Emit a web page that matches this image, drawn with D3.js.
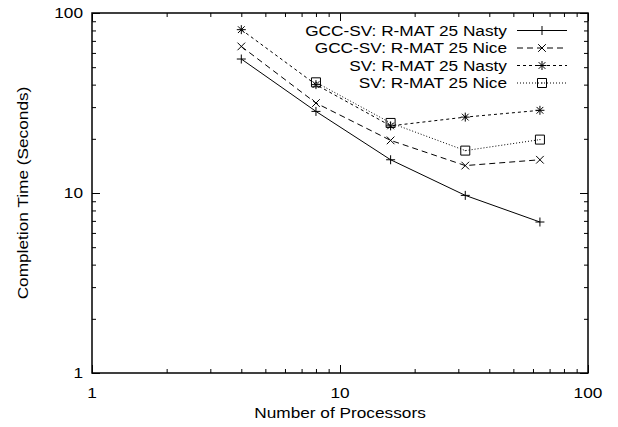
<!DOCTYPE html>
<html>
<head>
<meta charset="utf-8">
<script src="https://cdn.jsdelivr.net/npm/d3@7"></script>
<style>
  body { margin: 0; background: #fff; }
  text { font-family: "Liberation Sans", Arial, sans-serif; fill: #000; }
</style>
</head>
<body>
<svg id="chart"></svg>
<script>
// data
var procs = [4, 8, 16, 32, 64]
var gccNasty = [55.5, 28.4, 15.3, 9.7, 6.9]
var gccNice = [65.2, 31.6, 19.6, 14.2, 15.3]
var svNasty = [80.8, 40.0, 23.6, 26.4, 28.8]
var svNice = [null, 41.2, 24.5, 17.2, 19.8]
var seriesNames = ["GCC-SV: R-MAT 25 Nasty", "GCC-SV: R-MAT 25 Nice", "SV: R-MAT 25 Nasty", "SV: R-MAT 25 Nice"]
var xTicks = [1, 10, 100]
var yTicks = [1, 10, 100]

var screen = {width: 618, height: 427}
var margins = {top: 13, bottom: 54, left: 92, right: 30}
var graph = {
    width: screen.width - margins.left - margins.right,
    height: screen.height - margins.top - margins.bottom
}
var fontSize = 15
var stretch = 1.15   // the original's lettering is a bit wider than Arial

var svg = d3.select("#chart")
    .attr("width", screen.width)
    .attr("height", screen.height)

var xScale = d3.scaleLog().domain([1, 100]).range([0, graph.width])
var yScale = d3.scaleLog().domain([1, 100]).range([graph.height, 0])

var addText = function(parent, str, x, y, anchor, rot) {
    return parent.append("text")
        .text(str)
        .attr("text-anchor", anchor)
        .attr("font-size", fontSize)
        .attr("transform", "translate(" + x + "," + y + ")" + (rot ? " rotate(" + rot + ")" : "") + " scale(" + stretch + ",1)")
}

var minorX = []
var minorY = []
;[1, 10].forEach(function(d) {
    for (var k = 2; k <= 9; k++) { minorX.push(d * k); minorY.push(d * k) }
})

var g = svg.append("g")
    .attr("transform", "translate(" + margins.left + "," + margins.top + ")")

// ticks on all four sides, pointing inward (gnuplot style)
var tickSets = [
    {axis: d3.axisBottom, t: "translate(0," + graph.height + ")", scale: xScale, vals: xTicks, minor: minorX},
    {axis: d3.axisTop, t: "translate(0,0)", scale: xScale, vals: xTicks, minor: minorX},
    {axis: d3.axisLeft, t: "translate(0,0)", scale: yScale, vals: yTicks, minor: minorY},
    {axis: d3.axisRight, t: "translate(" + graph.width + ",0)", scale: yScale, vals: yTicks, minor: minorY}
]
tickSets.forEach(function(s) {
    var major = s.axis(s.scale).tickValues(s.vals).tickSizeInner(-8).tickSizeOuter(0).tickFormat("")
    var minor = s.axis(s.scale).tickValues(s.minor).tickSizeInner(-4).tickSizeOuter(0).tickFormat("")
    ;[major, minor].forEach(function(ax) {
        var a = g.append("g").attr("transform", s.t).call(ax)
        a.select(".domain").remove()
        a.selectAll("text").remove()
        a.selectAll("line").attr("stroke", "#000").attr("stroke-width", 1)
    })
})

g.append("rect")
    .attr("width", graph.width).attr("height", graph.height)
    .attr("fill", "none").attr("stroke", "#000").attr("stroke-width", 1.5)

// tick labels
xTicks.forEach(function(t) {
    addText(g, d3.format("d")(t), xScale(t), graph.height + 25, "middle")
})
yTicks.forEach(function(t) {
    addText(g, d3.format("d")(t), -9, yScale(t) + 5.3, "end")
})

// axis titles
addText(svg, "Number of Processors", margins.left + graph.width / 2, 418, "middle")
addText(svg, "Completion Time (Seconds)", 28, margins.top + graph.height / 2, "middle", 270)

var dashes = [null, "6,4", "3,3", "1,2"]

var drawMarker = function(sel, type) {
    var r = 4.5
    var p = d3.path()
    if (type === 0 || type === 2) {
        p.moveTo(-r, 0); p.lineTo(r, 0); p.moveTo(0, -r); p.lineTo(0, r)
    }
    if (type === 1 || type === 2) {
        var q = type === 2 ? r * 0.75 : r * 0.85
        p.moveTo(-q, -q); p.lineTo(q, q); p.moveTo(-q, q); p.lineTo(q, -q)
    }
    if (type === 3) {
        p.rect(-r, -r, 2 * r, 2 * r)
    }
    sel.append("path").attr("d", p.toString())
        .attr("fill", "none").attr("stroke", "#000").attr("stroke-width", 1)
    if (type === 3) {
        sel.append("rect").attr("x", -0.5).attr("y", -0.5).attr("width", 1).attr("height", 1).attr("fill", "#000")
    }
}

var allSeries = [gccNasty, gccNice, svNasty, svNice]

var line = d3.line()
    .defined(function(d) { return d.v != null })
    .x(function(d) { return xScale(d.p) })
    .y(function(d) { return yScale(d.v) })

allSeries.forEach(function(vals, i) {
    var pts = procs.map(function(p, j) { return {p: p, v: vals[j]} })
    g.append("path")
        .datum(pts)
        .attr("d", line)
        .attr("fill", "none")
        .attr("stroke", "#000")
        .attr("stroke-width", 1)
        .attr("stroke-dasharray", dashes[i])
    pts.filter(function(d) { return d.v != null }).forEach(function(d) {
        var m = g.append("g").attr("transform", "translate(" + xScale(d.p) + "," + yScale(d.v) + ")")
        drawMarker(m, i)
    })
})

// legend, top right inside the plot
var legend = svg.append("g")
seriesNames.forEach(function(name, i) {
    var y = 30.5 + i * 17.5
    addText(legend, name, 507, y + 5.3, "end")
    legend.append("line")
        .attr("x1", 517).attr("x2", 567)
        .attr("y1", y).attr("y2", y)
        .attr("stroke", "#000").attr("stroke-width", 1)
        .attr("stroke-dasharray", dashes[i])
    var m = legend.append("g").attr("transform", "translate(542," + y + ")")
    drawMarker(m, i)
})
</script>
</body>
</html>
